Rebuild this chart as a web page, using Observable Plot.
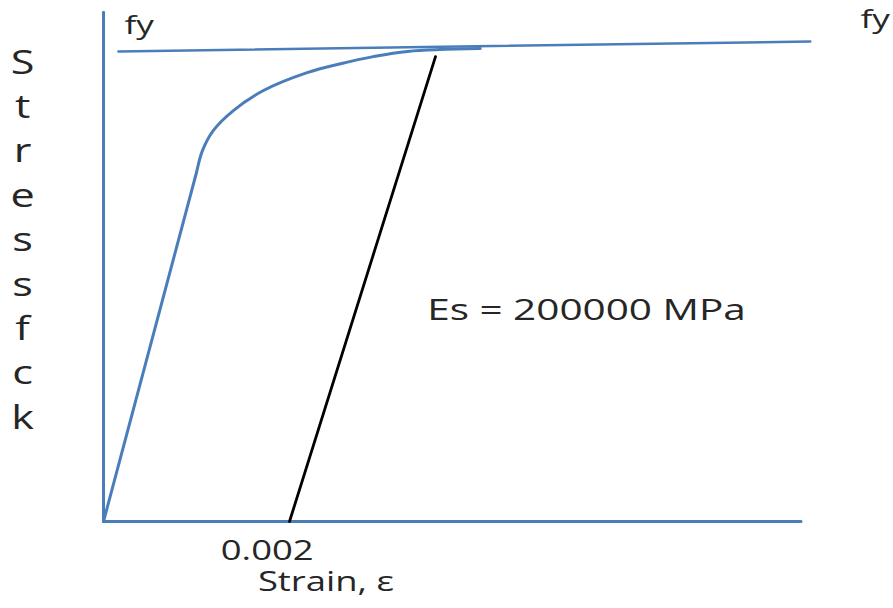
<!DOCTYPE html>
<html>
<head>
<meta charset="utf-8">
<script src="https://cdn.jsdelivr.net/npm/d3@7"></script>
<script src="https://cdn.jsdelivr.net/npm/@observablehq/plot@0.6"></script>
<style>
  html, body { margin: 0; padding: 0; background: #fff; }
  #chart svg { display: block; }
</style>
</head>
<body>
<div id="chart"></div>
<script>
// Elastic (straight) part of the stress–strain curve (strain, stress / fy)
const elasticStrain = [0, 0.001];
const elasticStress = [0, 0.741];
// Curved (yielding) part
const curveStrain = [0.001, 0.001065, 0.00118, 0.0014, 0.00172, 0.00219, 0.00255, 0.0029, 0.00327, 0.00405];
const curveStress = [0.741, 0.788, 0.830, 0.873, 0.915, 0.953, 0.972, 0.987, 0.998, 1.004];
// fy level line
const fyStrain = [0.00016, 0.0076];
const fyStress = [0.998, 1.019];
// Offset line (0.002 offset, slope Es)
const offsetStrain = [0.002, 0.00357];
const offsetStress = [0, 0.987];
// Axes extents
const axisXMax = 0.0075;
const axisYMax = 1.081;
// Labels
const yLabelLetters = ["S", "t", "r", "e", "s", "s", "f", "c", "k"];
const tickLabel = "0.002";
const xTitle = "Strain, \u03b5";
const esLabel = "Es = 200000 MPa";
const fyLabel = "fy";

const toPts = (xs, ys) => xs.map((e, i) => ({e, s: ys[i]}));
const elastic = toPts(elasticStrain, elasticStress);
const curve = toPts(curveStrain, curveStress);
const fyLine = toPts(fyStrain, fyStress);
const offLine = toPts(offsetStrain, offsetStress);

const blue = "#4a7ebb";
const ink = "#262626";
const font = "Open Sans, Lato, sans-serif";

const plot = Plot.plot({
  width: 893,
  height: 608,
  margin: 0,
  x: {domain: [0, 0.008], range: [103, 847], axis: null},
  y: {domain: [0, 1], range: [521, 50], axis: null},
  style: {background: "#fff", fontFamily: font, overflow: "visible"},
  marks: [
    Plot.line([{e: 0, s: 0}, {e: 0, s: axisYMax}], {x: "e", y: "s", stroke: blue, strokeWidth: 3}),
    Plot.line([{e: 0, s: 0}, {e: axisXMax, s: 0}], {x: "e", y: "s", stroke: blue, strokeWidth: 3}),
    Plot.line(fyLine, {x: "e", y: "s", stroke: blue, strokeWidth: 2.5}),
    Plot.line(elastic, {x: "e", y: "s", stroke: blue, strokeWidth: 3, strokeLinecap: "round"}),
    Plot.line(curve, {x: "e", y: "s", stroke: blue, strokeWidth: 3, curve: "catmull-rom", strokeLinecap: "round"}),
    Plot.line(offLine, {x: "e", y: "s", stroke: "#000", strokeWidth: 2.8}),
    Plot.text([fyLabel], {x: 0.000226, y: 1.036, text: d => d, textAnchor: "start", lineAnchor: "bottom", fontSize: 26, fill: ink, className: "stretch"}),
    Plot.text([fyLabel], {x: 0.00814, y: 1.047, text: d => d, textAnchor: "start", lineAnchor: "bottom", fontSize: 26, fill: ink, className: "stretch"}),
    Plot.text([tickLabel], {x: 0.00176, y: -0.082, text: d => d, textAnchor: "middle", lineAnchor: "bottom", fontSize: 27, fill: ink, className: "stretch"}),
    Plot.text([xTitle], {x: 0.00166, y: -0.148, text: d => d, textAnchor: "start", lineAnchor: "bottom", fontSize: 27, fill: ink, className: "stretch"}),
    Plot.text([esLabel], {x: 0.00348, y: 0.427, text: d => d, textAnchor: "start", lineAnchor: "bottom", fontSize: 30, fill: ink, className: "stretch"}),
    Plot.text([yLabelLetters.join("\n")], {x: -0.00087, y: 0.197, text: d => d, textAnchor: "middle", lineAnchor: "bottom", lineHeight: 1.3875, fontSize: 32, fill: ink, className: "stretch"})
  ]
});

// Reference text is horizontally stretched; mimic it
plot.querySelectorAll(".stretch text").forEach(t => {
  const tr = t.getAttribute("transform");
  if (tr && tr.includes("translate")) {
    t.setAttribute("transform", tr + " scale(1.35,1)");
  } else {
    const x = +t.getAttribute("x") || 0, y = +t.getAttribute("y") || 0;
    t.removeAttribute("x"); t.removeAttribute("y");
    t.setAttribute("transform", `translate(${x},${y}) scale(1.35,1)`);
  }
});

document.getElementById("chart").append(plot);
</script>
</body>
</html>
